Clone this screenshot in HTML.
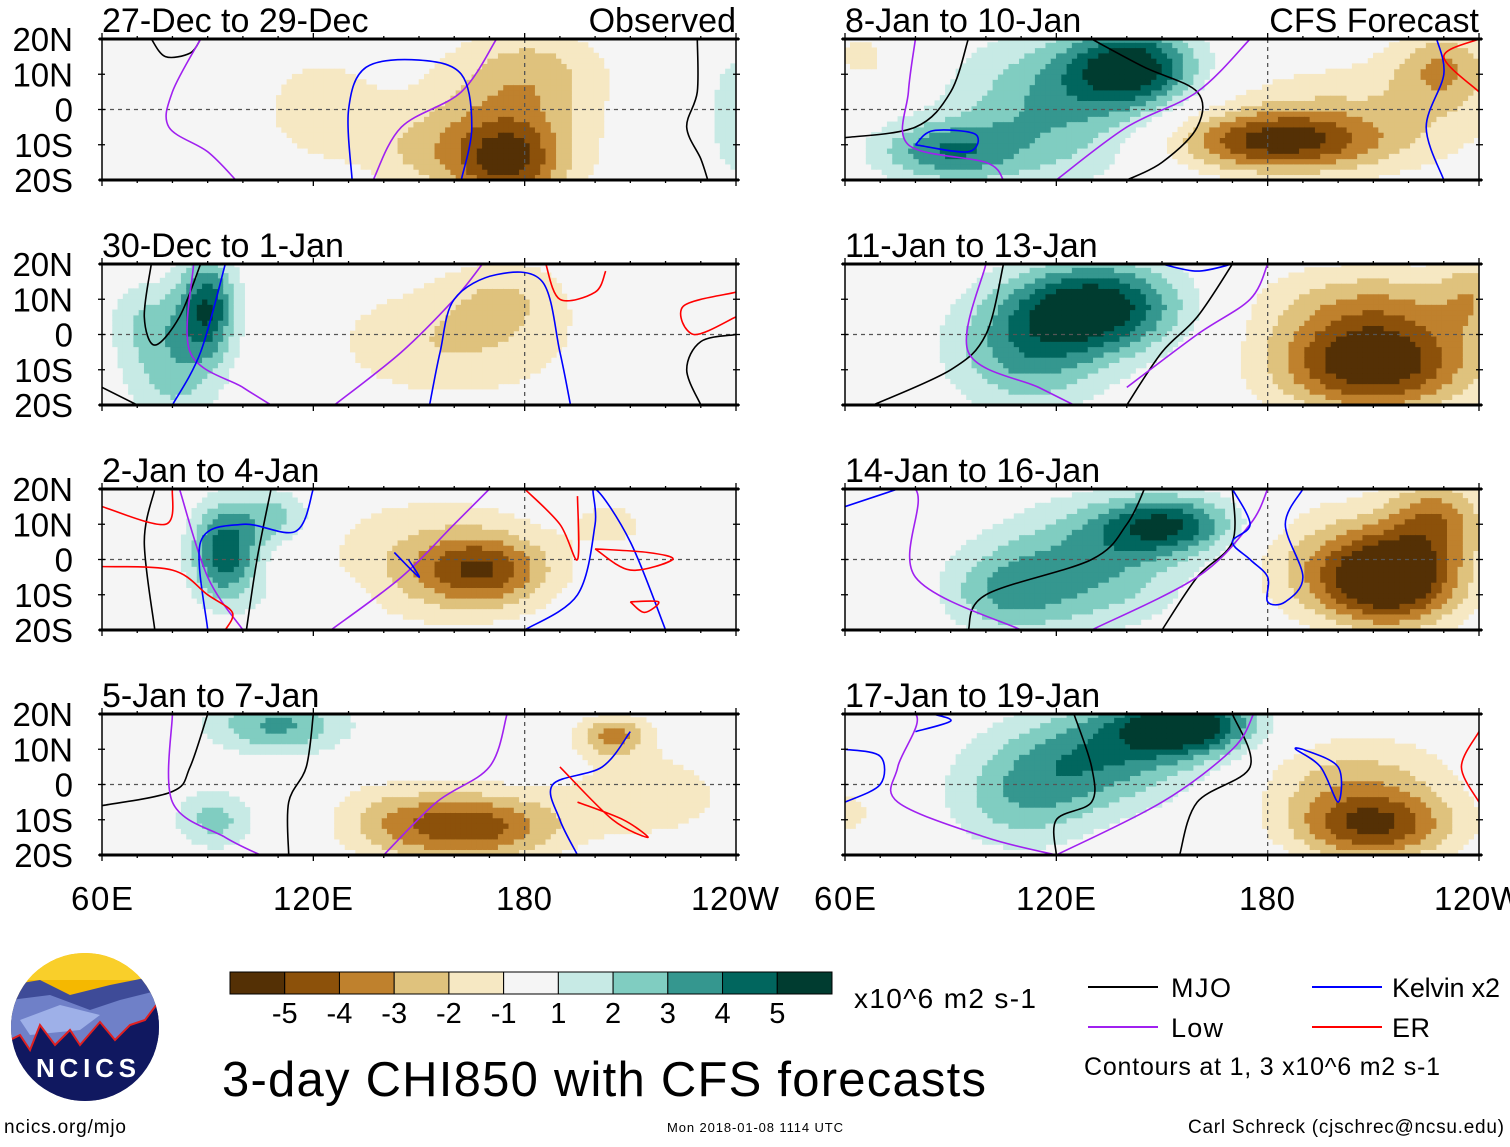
<!DOCTYPE html>
<html><head><meta charset="utf-8">
<style>
html,body{margin:0;padding:0;background:#fff;}
svg text{font-family:"Liberation Sans",sans-serif;fill:#000;}
</style></head>
<body>
<svg id="chart" xmlns="http://www.w3.org/2000/svg" width="1510" height="1142" viewBox="0 0 1510 1142">
<g id="panels"></g>

<g font-size="33">
<text x="102" y="910" text-anchor="middle" textLength="62">60E</text>
<text x="313" y="910" text-anchor="middle" textLength="80">120E</text>
<text x="524" y="910" text-anchor="middle" textLength="56">180</text>
<text x="735" y="910" text-anchor="middle" textLength="88">120W</text>
</g>
<g font-size="33">
<text x="845" y="910" text-anchor="middle" textLength="62">60E</text>
<text x="1056" y="910" text-anchor="middle" textLength="80">120E</text>
<text x="1267" y="910" text-anchor="middle" textLength="56">180</text>
<text x="1478" y="910" text-anchor="middle" textLength="88">120W</text>
</g>

<g>
<defs><clipPath id="logoclip"><ellipse cx="85" cy="1027" rx="74" ry="74"/></clipPath></defs>
<g clip-path="url(#logoclip)">
<rect x="10" y="950" width="150" height="160" fill="#f5b800"/>
<rect x="10" y="950" width="150" height="30" fill="#f9cf2a"/>
<polygon points="10,985 40,980 70,995 110,985 160,975 160,1110 10,1110" fill="#3e4b98"/>
<polygon points="10,1000 50,995 90,1010 120,1000 160,990 160,1110 10,1110" fill="#6f80c8"/>
<polygon points="20,1020 60,1005 100,1015 80,1030 30,1035" fill="#9eb0e8"/>
<polygon points="10,1040 20,1035 30,1050 40,1025 55,1045 70,1030 80,1045 100,1022 115,1040 130,1025 145,1020 160,1000 160,1110 10,1110" fill="#101860" stroke="#e02020" stroke-width="2"/>
</g>
<text x="86" y="1077" text-anchor="middle" font-size="26" font-weight="bold" style="fill:#fff" textLength="100">NCICS</text>
</g>
<text x="4" y="1133" font-size="19" textLength="122">ncics.org/mjo</text>
<text x="667" y="1132" font-size="13" textLength="176">Mon 2018-01-08 1114 UTC</text>
<text x="1188" y="1133" font-size="19" textLength="316">Carl Schreck (cjschrec@ncsu.edu)</text>

<g id="colorbar"></g>
<text x="854" y="1008" font-size="28" textLength="182">x10^6 m2 s-1</text>
<text x="222" y="1096" font-size="49" textLength="764">3-day CHI850 with CFS forecasts</text>

<g font-size="27">
<g><line x1="1088" y1="987" x2="1158" y2="987" stroke="#000" stroke-width="2"/><text x="1171" y="997" textLength="60">MJO</text></g>
<g><line x1="1312" y1="987" x2="1382" y2="987" stroke="#0000ff" stroke-width="2"/><text x="1392" y="997" textLength="108">Kelvin x2</text></g>
<g><line x1="1088" y1="1027" x2="1158" y2="1027" stroke="#a020f0" stroke-width="2"/><text x="1171" y="1037" textLength="52">Low</text></g>
<g><line x1="1312" y1="1027" x2="1382" y2="1027" stroke="#ff0000" stroke-width="2"/><text x="1392" y="1037" textLength="38">ER</text></g>
<text x="1084" y="1075" font-size="25" textLength="356">Contours at 1, 3 x10^6 m2 s-1</text>
</g>
</svg>
<script>
// ---- data ----
const panelTitles = ["27-Dec to 29-Dec","30-Dec to 1-Jan","2-Jan to 4-Jan","5-Jan to 7-Jan","8-Jan to 10-Jan","11-Jan to 13-Jan","14-Jan to 16-Jan","17-Jan to 19-Jan"];
const panelTags = ["Observed","","","","CFS Forecast","","",""];
const latTicks = ["20N","10N","0","10S","20S"];
const latValues = [20,10,0,-10,-20];
const levelLabels = ["-5","-4","-3","-2","-1","1","2","3","4","5"];
const levelColors = ["#543005","#8c510a","#bf812d","#dfc27d","#f6e8c3","#f5f5f5","#c7eae5","#80cdc1","#35978f","#01665e","#003c30"];
// anomaly centres per panel: [lon, lat, amplitude, lonSpread, latSpread]
const anomalies0 = [[175,-15,-3.4,10,8],[175,-5,-2.8,18,16],[185,12,-1.2,14,8],[122,0,-1.6,13,12],[150,-12,-1.3,12,8],[242,-2,2,7,14]];
const anomalies1 = [[90,8,4.6,6,10],[80,-10,2.4,10,12],[72,5,1.4,8,8],[160,-2,-2,25,12],[175,12,-1.3,12,8]];
const anomalies2 = [[95,2,4.8,7,10],[110,12,2.4,8,6],[168,-3,-3.8,13,7],[152,0,-1.8,25,14],[205,10,-1.3,8,5],[118,-12,1.3,10,6]];
const anomalies3 = [[110,17,3.2,14,6],[92,-10,2.4,8,6],[165,-12,-4.6,17,7],[205,14,-3.2,7,4],[215,-3,-1.6,18,10],[140,-10,-1.5,12,8]];
const anomalies4 = [[142,12,5.4,13,8],[118,0,3,20,15],[88,-12,3.4,14,6],[182,-9,-4.6,20,6],[205,-2,-1.8,30,12],[230,12,-2.6,10,8],[65,15,-1.5,6,5]];
const anomalies5 = [[132,8,5.6,17,9],[112,-5,3.2,16,12],[210,-8,-6.2,20,10],[210,10,-2,25,8],[238,12,-1.6,6,8]];
const anomalies6 = [[152,10,4.6,14,6],[128,-2,3.2,20,12],[105,-10,2.2,12,8],[215,-6,-6,14,9],[228,12,-3.2,10,8],[200,0,-2,20,12]];
const anomalies7 = [[157,17,5.8,14,6],[132,8,3.6,20,10],[110,-5,2.3,15,10],[210,-12,-4.8,16,7],[205,2,-2.2,20,9],[62,-8,-1.3,5,6]];
const allAnomalies = [anomalies0,anomalies1,anomalies2,anomalies3,anomalies4,anomalies5,anomalies6,anomalies7];
// contour lines per panel: [type, [[lon,lat],...]]
const contours0 = [["mjo",[[74,20],[78,15],[85,16],[88,20]]],["mjo",[[229,20],[229,5],[226,-5],[230,-14],[232,-20]]],["low",[[88,20],[80,5],[79,-5],[90,-12],[98,-20]]],["low",[[137,-20],[145,-5],[162,5],[172,20]]],["kelvin",[[131,-20],[130,0],[135,12],[150,14],[162,10],[165,-5],[162,-20]]],["er",[[250,20],[246,10],[248,0],[260,-5]]]];
const contours1 = [["mjo",[[74,20],[72,5],[75,-3],[82,5],[88,20]]],["mjo",[[60,-15],[70,-20]]],["mjo",[[240,0],[230,-2],[226,-10],[230,-20]]],["low",[[86,20],[85,-5],[100,-15],[108,-20]]],["low",[[126,-20],[145,-5],[160,10],[168,20]]],["kelvin",[[80,-20],[88,-5],[95,20]]],["kelvin",[[153,-20],[156,-5],[160,10],[172,17],[185,15],[190,-5],[193,-20]]],["er",[[186,20],[190,10],[200,12],[203,18]]],["er",[[240,12],[225,8],[228,0],[240,5]]]];
const contours2 = [["mjo",[[75,20],[72,5],[75,-20]]],["mjo",[[101,-20],[104,0],[108,20]]],["low",[[82,20],[90,-5],[100,-20]]],["low",[[125,-20],[145,-5],[160,10],[170,20]]],["kelvin",[[90,-20],[88,5],[100,10],[115,8],[120,20]]],["kelvin",[[143,2],[150,-5],[147,0]]],["kelvin",[[180,-20],[195,-10],[200,10],[200,20],[210,5],[220,-20]]],["er",[[60,15],[78,10],[80,20]]],["er",[[60,-2],[80,-3],[90,-10],[97,-15],[95,-20]]],["er",[[180,20],[190,10],[195,0],[195,18]]],["er",[[200,3],[215,2],[222,0],[210,-3],[200,3]]],["er",[[210,-12],[218,-12],[214,-15],[210,-12]]]];
const contours3 = [["mjo",[[60,-6],[80,-2],[85,5],[90,20]]],["mjo",[[113,-20],[113,-5],[118,5],[120,20]]],["low",[[80,20],[80,-5],[95,-15],[105,-20]]],["low",[[140,-20],[155,-5],[170,5],[175,20]]],["kelvin",[[195,-20],[190,-10],[188,0],[202,5],[210,15]]],["er",[[190,5],[205,-10],[215,-15],[208,-10],[195,-5]]]];
const contours4 = [["mjo",[[60,-8],[80,-5],[90,5],[95,20]]],["mjo",[[130,20],[145,12],[160,5],[160,-5],[150,-15],[140,-20]]],["low",[[80,20],[78,5],[78,-10],[100,-15],[105,-20]]],["low",[[120,-20],[140,-5],[160,5],[175,20]]],["kelvin",[[80,-10],[95,-12],[97,-7],[85,-6],[80,-10]]],["kelvin",[[230,-20],[225,-5],[230,10],[228,20]]],["er",[[240,20],[230,15],[240,5]]]];
const contours5 = [["mjo",[[68,-20],[90,-10],[100,0],[105,20]]],["mjo",[[170,20],[160,5],[150,-5],[140,-20]]],["low",[[100,20],[95,-5],[115,-15],[125,-20]]],["low",[[140,-15],[160,0],[175,10],[180,20]]],["kelvin",[[150,20],[160,18],[170,20]]]];
const contours6 = [["mjo",[[95,-20],[100,-10],[130,0],[140,10],[145,20]]],["mjo",[[170,20],[170,5],[160,-5],[150,-20]]],["low",[[60,20],[80,20],[80,-5],[110,-20]]],["low",[[130,-20],[160,-5],[175,10],[180,20]]],["kelvin",[[60,15],[75,20]]],["kelvin",[[170,20],[175,10],[170,5],[175,0],[180,-5],[180,-12],[185,-12],[190,-5],[185,10],[190,20]]]];
const contours7 = [["mjo",[[120,-20],[120,-10],[130,-5],[130,5],[125,20]]],["mjo",[[170,20],[175,5],[160,-5],[155,-20]]],["low",[[60,20],[80,20],[75,5],[75,-5],[100,-15],[120,-20]]],["low",[[120,-20],[150,-5],[170,10],[176,20]]],["kelvin",[[60,-5],[70,0],[70,8],[60,10]]],["kelvin",[[190,10],[200,5],[200,-5],[195,5],[188,10],[190,10]]],["kelvin",[[80,15],[90,18],[85,20]]],["er",[[240,-5],[235,5],[240,15]]]];
const allContours = [contours0,contours1,contours2,contours3,contours4,contours5,contours6,contours7];
const lonTickValues = [60,120,180,240];

// ---- layout ----
const NS="http://www.w3.org/2000/svg";
const colX=[102,845], rowY=[39,264,489,714], PW=634, PH=141;
const lonMin=60, lonMax=240, latMin=-20, latMax=20;
function mk(tag,attrs,parent){const e=document.createElementNS(NS,tag);for(const k in attrs)e.setAttribute(k,attrs[k]);parent.appendChild(e);return e;}
function field(an,lon,lat){let v=0;for(const a of an){const dx=(lon-a[0])/a[3],dy=(lat-a[1])/a[4];v+=a[2]*Math.exp(-0.5*(dx*dx+dy*dy));}return v;}
function levelIndex(v){const th=[-5,-4,-3,-2,-1,1,2,3,4,5];let i=0;while(i<th.length&&v>th[i])i++;return i;}
function smoothPath(P){if(P.length<3)return 'M'+P.map(p=>p.join(',')).join(' L');
  let d='M'+P[0][0].toFixed(1)+','+P[0][1].toFixed(1);
  for(let i=0;i<P.length-1;i++){const p0=P[i-1]||P[i],p1=P[i],p2=P[i+1],p3=P[i+2]||p2;
    const c1=[p1[0]+(p2[0]-p0[0])/6,p1[1]+(p2[1]-p0[1])/6],c2=[p2[0]-(p3[0]-p1[0])/6,p2[1]-(p3[1]-p1[1])/6];
    d+=' C'+c1.map(v=>v.toFixed(1)).join(',')+' '+c2.map(v=>v.toFixed(1)).join(',')+' '+p2.map(v=>v.toFixed(1)).join(',');}
  return d;}
const lineColors={mjo:"#000",low:"#a020f0",kelvin:"#0000ff",er:"#ff0000"};
const root=document.getElementById('panels');
for(let p=0;p<8;p++){
  const x0=colX[p<4?0:1], y0=rowY[p%4];
  const xs=lon=>x0+(lon-lonMin)/(lonMax-lonMin)*PW;
  const ys=lat=>y0+(latMax-lat)/(latMax-latMin)*PH;
  const g=mk('g',{},root);
  
  
  const cid='clip'+p;
  const cp=mk('clipPath',{id:cid},g);mk('rect',{x:x0,y:y0,width:PW,height:PH},cp);
  const fg=mk('g',{'clip-path':'url(#'+cid+')'},g);
  
  
  mk('rect',{x:x0,y:y0,width:PW,height:PH,fill:levelColors[5]},fg);
  const step=1.5;
  for(let lon=lonMin;lon<lonMax;lon+=step){for(let lat=latMin;lat<latMax;lat+=step){
    const v=field(allAnomalies[p],lon+step/2,lat+step/2);const li=levelIndex(v);if(li===5)continue;
    const r=mk('rect',{x:xs(lon)-0.3,y:ys(lat+step)-0.3,width:xs(lon+step)-xs(lon)+0.6,height:ys(lat)-ys(lat+step)+0.6,fill:levelColors[li]},fg);
    
    
  }}
  mk('line',{x1:x0,y1:ys(0),x2:x0+PW,y2:ys(0),stroke:'#555','stroke-width':1.3,'stroke-dasharray':'4,4'},fg);
  mk('line',{x1:xs(180),y1:y0,x2:xs(180),y2:y0+PH,stroke:'#555','stroke-width':1.3,'stroke-dasharray':'4,4'},fg);
  for(const c of allContours[p]){
    const P=c[1].map(q=>[xs(q[0]),ys(q[1])]);
    const pl=mk('path',{d:smoothPath(P),fill:'none',stroke:lineColors[c[0]],'stroke-width':1.6,'stroke-linejoin':'round'},fg);
    
    
  }
  mk('rect',{x:x0,y:y0,width:PW,height:PH,fill:'none',stroke:'#000','stroke-width':1.5},g);
  mk('line',{x1:x0-3,y1:y0,x2:x0+PW+3,y2:y0,stroke:'#000','stroke-width':3},g);
  mk('line',{x1:x0-3,y1:y0+PH,x2:x0+PW+3,y2:y0+PH,stroke:'#000','stroke-width':3},g);
  for(let lon=lonMin;lon<=lonMax;lon+=10){const major=lonTickValues.includes(lon);const L=major?6:3;
    mk('line',{x1:xs(lon),y1:y0-L,x2:xs(lon),y2:y0,stroke:'#000','stroke-width':1.3},g);
    mk('line',{x1:xs(lon),y1:y0+PH,x2:xs(lon),y2:y0+PH+L,stroke:'#000','stroke-width':1.3},g);}
  for(const lat of latValues){
    mk('line',{x1:x0-4,y1:ys(lat),x2:x0+3,y2:ys(lat),stroke:'#000','stroke-width':1.3},g);
    mk('line',{x1:x0+PW-3,y1:ys(lat),x2:x0+PW+4,y2:ys(lat),stroke:'#000','stroke-width':1.3},g);}
  const t=mk('text',{x:x0,y:y0-7,'font-size':34},g);t.textContent=panelTitles[p];
  
  
  if(panelTags[p]){const tg=mk('text',{x:x0+PW,y:y0-7,'font-size':34,'text-anchor':'end'},g);tg.textContent=panelTags[p];
    
    }
  if(p<4){latTicks.forEach((lb,i)=>{const tt=mk('text',{x:73,y:ys(latValues[i])+12,'font-size':33,'text-anchor':'end'},g);tt.textContent=lb;
    
    });}
}
const cb=document.getElementById('colorbar');const cbx=230,cby=972,cbw=602/11,cbh=22;
levelColors.forEach((c,i)=>{const r=mk('rect',{x:cbx+i*cbw,y:cby,width:cbw,height:cbh,fill:c,stroke:'#000','stroke-width':1},cb);
  
  });
levelLabels.forEach((lb,i)=>{const t=mk('text',{x:cbx+(i+1)*cbw,y:1023,'font-size':29,'text-anchor':'middle'},cb);t.textContent=lb;
  
  });
</script>
</body></html>
